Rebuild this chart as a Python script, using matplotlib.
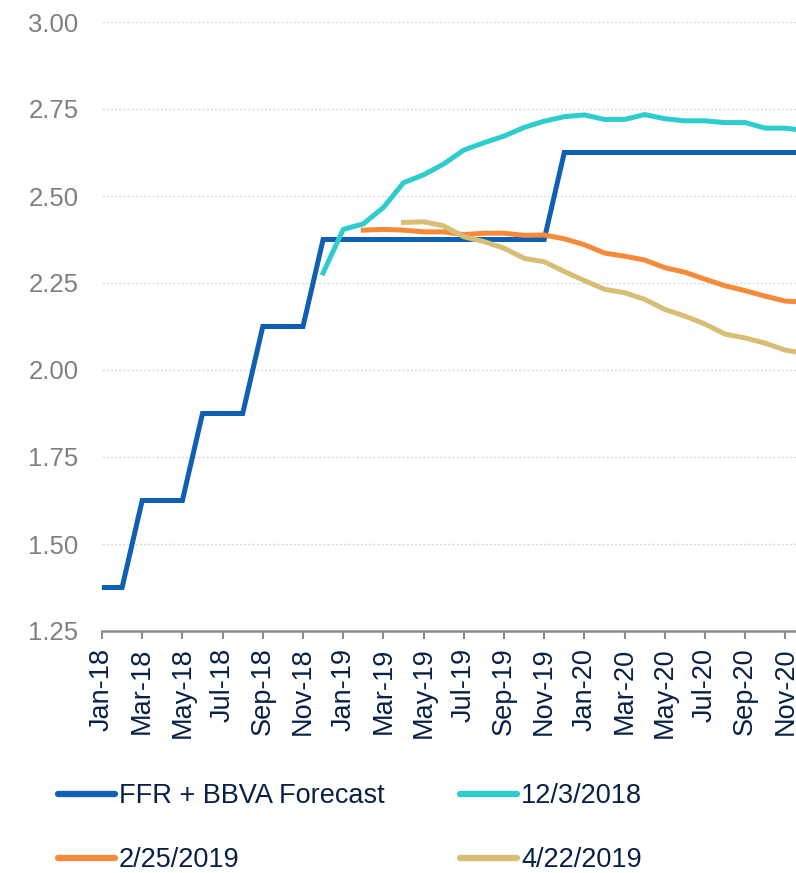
import matplotlib
matplotlib.use("Agg")
import matplotlib.pyplot as plt
from matplotlib.lines import Line2D
import numpy as np

plt.rcParams['font.family'] = ['Liberation Sans', 'DejaVu Sans']

months = ["Jan-18","Feb-18","Mar-18","Apr-18","May-18","Jun-18","Jul-18","Aug-18","Sep-18","Oct-18","Nov-18","Dec-18",
          "Jan-19","Feb-19","Mar-19","Apr-19","May-19","Jun-19","Jul-19","Aug-19","Sep-19","Oct-19","Nov-19","Dec-19",
          "Jan-20","Feb-20","Mar-20","Apr-20","May-20","Jun-20","Jul-20","Aug-20","Sep-20","Oct-20","Nov-20","Dec-20"]

ffr = [1.375, 1.375, 1.625, 1.625, 1.625, 1.875, 1.875, 1.875, 2.125, 2.125, 2.125, 2.375,
       2.375, 2.375, 2.375, 2.375, 2.375, 2.375, 2.375, 2.375, 2.375, 2.375, 2.375, 2.625,
       2.625, 2.625, 2.625, 2.625, 2.625, 2.625, 2.625, 2.625, 2.625, 2.625, 2.625, 2.625]

# 12/3/2018 starts Dec-18 (index 11)
dec2018 = [2.279, 2.404, 2.420, 2.467, 2.538, 2.561, 2.592, 2.632, 2.653, 2.672, 2.697, 2.715,
           2.728, 2.733, 2.720, 2.720, 2.734, 2.722, 2.716, 2.716, 2.711, 2.711, 2.695, 2.695, 2.688]
# 2/25/2019 starts Feb-19 (index 13)
feb2019 = [2.402, 2.404, 2.402, 2.397, 2.397, 2.389, 2.393, 2.393, 2.387, 2.388, 2.377, 2.360,
           2.336, 2.327, 2.316, 2.294, 2.281, 2.261, 2.242, 2.228, 2.212, 2.198, 2.195]
# 4/22/2019 starts Apr-19 (index 15)
apr2019 = [2.424, 2.426, 2.414, 2.383, 2.369, 2.350, 2.321, 2.311, 2.283, 2.257, 2.232, 2.222,
           2.203, 2.174, 2.155, 2.132, 2.103, 2.092, 2.077, 2.057, 2.047]

series_labels = ["FFR + BBVA Forecast", "12/3/2018", "2/25/2019", "4/22/2019"]
colors = ["#0F5FB4", "#2DCCCD", "#F7893B", "#D8BE75"]
yticks = [1.25, 1.50, 1.75, 2.00, 2.25, 2.50, 2.75, 3.00]

navy = "#072146"
W, H = 796, 873
fig = plt.figure(figsize=(W/100, H/100), dpi=100)
ax = fig.add_axes([102/W, 1-631/H, 1-102/W, (631-22)/H])

n = len(months)
x_all = np.arange(n)
lw = 3.6
ax.plot(x_all, ffr, color=colors[0], lw=lw, solid_joinstyle='miter', zorder=3)
ax.plot(x_all[n-len(dec2018):], dec2018, color=colors[1], lw=lw, zorder=4)
ax.plot(x_all[n-len(feb2019):], feb2019, color=colors[2], lw=lw, zorder=4)
ax.plot(x_all[n-len(apr2019):], apr2019, color=colors[3], lw=lw, zorder=5)

ax.set_xlim(0, 694/20.1)
ax.set_ylim(1.25, 3.0)
ax.set_yticks(yticks)
ax.set_yticklabels([f"{v:.2f}" for v in yticks], color="#808080", fontsize=18.5)
ax.tick_params(axis='y', length=0, pad=17)
ax.grid(axis='y', color="#D9D9D9", linestyle=(0, (1.5, 1.5)), lw=1.0)
ax.set_axisbelow(True)

ax.set_xticks(x_all[::2])
ax.set_xticklabels(months[::2], rotation=90, color=navy, fontsize=19.5)
ax.tick_params(axis='x', length=6, width=1.5, color="#8C8C8C", pad=6)

for s in ['top', 'right', 'left']:
    ax.spines[s].set_visible(False)
ax.spines['bottom'].set_color("#8C8C8C")
ax.spines['bottom'].set_linewidth(1.8)

handles = [Line2D([0], [0], color=c, lw=4.5, solid_capstyle='round') for c in colors]
order = [0, 2, 1, 3]  # legend fills column-wise
fig.legend([handles[i] for i in order], [series_labels[i] for i in order],
           loc='upper left', bbox_to_anchor=(58/W, 1-783/H),
           ncol=2, frameon=False, fontsize=19.5, labelcolor=navy, handlelength=2.1,
           handletextpad=0.15, columnspacing=2.8, labelspacing=1.42, borderpad=0,
           borderaxespad=0)

fig.savefig("out.png", dpi=100)
